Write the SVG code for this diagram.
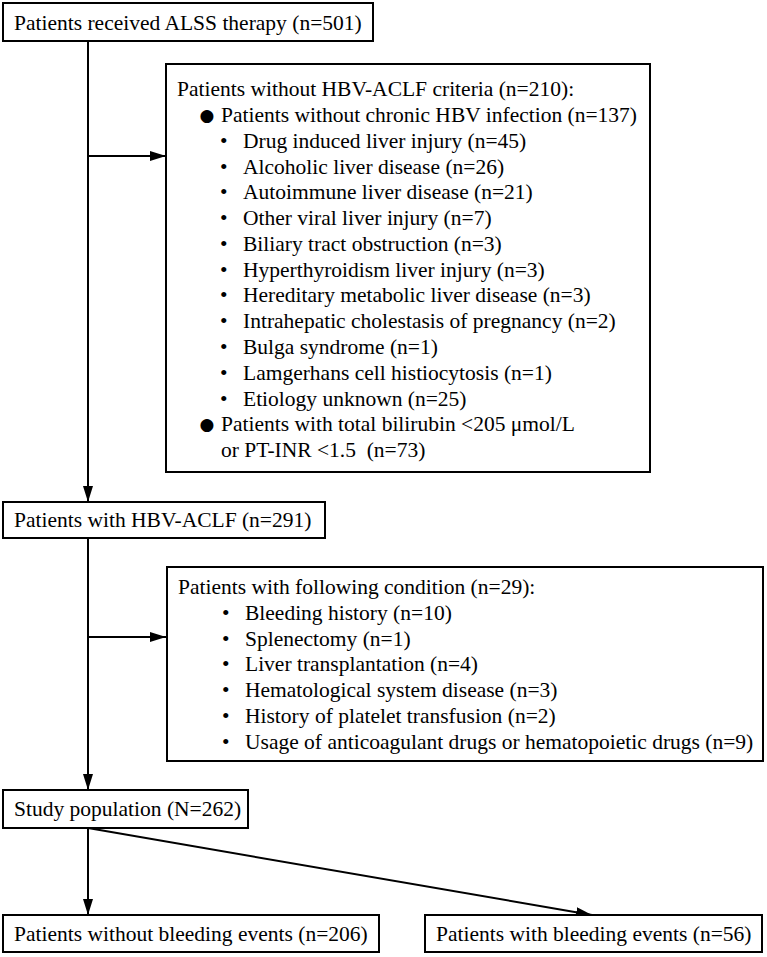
<svg xmlns="http://www.w3.org/2000/svg" width="767" height="957" viewBox="0 0 767 957">
<style>
.box{fill:#fff;stroke:#000;stroke-width:2}
.t{font-family:"Liberation Serif","Times New Roman",serif;font-size:21.5px;fill:#000}
.bb{font-family:"DejaVu Sans",sans-serif;font-size:17px;fill:#000}
.ln{stroke:#000;stroke-width:2;fill:none}
</style>
<defs>
<marker id="ah" viewBox="0 0 16 10" refX="16" refY="5" markerWidth="16" markerHeight="10" markerUnits="userSpaceOnUse" orient="auto">
<path d="M0,0 L16,5 L0,10 Z" fill="#000"/>
</marker>
</defs>
<rect width="767" height="957" fill="#fff"/>
<g id="connectors">
<line class="ln" x1="88" y1="41" x2="88" y2="502" marker-end="url(#ah)"/>
<line class="ln" x1="88" y1="156" x2="166" y2="156" marker-end="url(#ah)"/>
<line class="ln" x1="88" y1="538" x2="88" y2="790" marker-end="url(#ah)"/>
<line class="ln" x1="88" y1="637" x2="166" y2="637" marker-end="url(#ah)"/>
<line class="ln" x1="88" y1="828" x2="88" y2="915" marker-end="url(#ah)"/>
<line class="ln" x1="88" y1="828" x2="592" y2="915" marker-end="url(#ah)"/>
</g>
<g id="n_alss">
<rect class="box" x="3" y="3" width="370" height="38"/>
<text class="t" x="14" y="30">Patients received ALSS therapy (n=501)</text>
</g>
<g id="n_excl1">
<rect class="box" x="166" y="64" width="484" height="408"/>
<text class="t" x="177" y="96">Patients without HBV-ACLF criteria (n=210):</text>
<text class="bb" x="207" y="121" text-anchor="middle">●</text>
<text class="t" x="221" y="122">Patients without chronic HBV infection (n=137)</text>
<text class="t" x="220" y="147.8">•</text><text class="t" x="243" y="147.8">Drug induced liver injury (n=45)</text>
<text class="t" x="220" y="173.5">•</text><text class="t" x="243" y="173.5">Alcoholic liver disease (n=26)</text>
<text class="t" x="220" y="199.3">•</text><text class="t" x="243" y="199.3">Autoimmune liver disease (n=21)</text>
<text class="t" x="220" y="225.1">•</text><text class="t" x="243" y="225.1">Other viral liver injury (n=7)</text>
<text class="t" x="220" y="250.9">•</text><text class="t" x="243" y="250.9">Biliary tract obstruction (n=3)</text>
<text class="t" x="220" y="276.6">•</text><text class="t" x="243" y="276.6">Hyperthyroidism liver injury (n=3)</text>
<text class="t" x="220" y="302.4">•</text><text class="t" x="243" y="302.4">Hereditary metabolic liver disease (n=3)</text>
<text class="t" x="220" y="328.2">•</text><text class="t" x="243" y="328.2">Intrahepatic cholestasis of pregnancy (n=2)</text>
<text class="t" x="220" y="353.9">•</text><text class="t" x="243" y="353.9">Bulga syndrome (n=1)</text>
<text class="t" x="220" y="379.7">•</text><text class="t" x="243" y="379.7">Lamgerhans cell histiocytosis (n=1)</text>
<text class="t" x="220" y="405.5">•</text><text class="t" x="243" y="405.5">Etiology unknown (n=25)</text>
<text class="bb" x="207" y="430.2" text-anchor="middle">●</text>
<text class="t" x="221" y="431.2">Patients with total bilirubin &lt;205 μmol/L</text>
<text class="t" x="221" y="457" style="white-space:pre">or PT-INR &lt;1.5  (n=73)</text>
</g>
<g id="n_hbv">
<rect class="box" x="3" y="502" width="322" height="36"/>
<text class="t" x="14" y="527">Patients with HBV-ACLF (n=291)</text>
</g>
<g id="n_excl2">
<rect class="box" x="167" y="567" width="596" height="194"/>
<text class="t" x="178" y="594">Patients with following condition (n=29):</text>
<text class="t" x="222" y="619.8">•</text><text class="t" x="245" y="619.8">Bleeding history (n=10)</text>
<text class="t" x="222" y="645.6">•</text><text class="t" x="245" y="645.6">Splenectomy (n=1)</text>
<text class="t" x="222" y="671.4">•</text><text class="t" x="245" y="671.4">Liver transplantation (n=4)</text>
<text class="t" x="222" y="697.2">•</text><text class="t" x="245" y="697.2">Hematological system disease (n=3)</text>
<text class="t" x="222" y="723">•</text><text class="t" x="245" y="723">History of platelet transfusion (n=2)</text>
<text class="t" x="222" y="748.8">•</text><text class="t" x="245" y="748.8">Usage of anticoagulant drugs or hematopoietic drugs (n=9)</text>
</g>
<g id="n_study">
<rect class="box" x="3" y="790" width="245" height="38"/>
<text class="t" x="14" y="816">Study population (N=262)</text>
</g>
<g id="n_nobleed">
<rect class="box" x="3" y="915" width="376" height="37"/>
<text class="t" x="14" y="941">Patients without bleeding events (n=206)</text>
</g>
<g id="n_bleed">
<rect class="box" x="425" y="915" width="337" height="37"/>
<text class="t" x="436" y="941">Patients with bleeding events (n=56)</text>
</g>
</svg>
